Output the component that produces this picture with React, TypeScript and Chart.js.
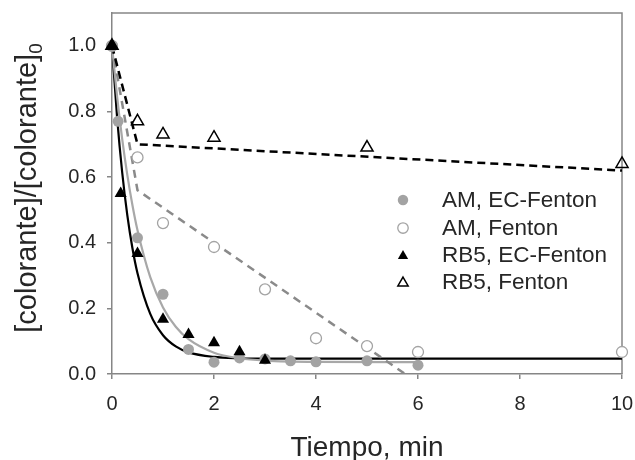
import React, { useEffect, useRef } from 'react';
import { Chart, registerables } from 'chart.js';

Chart.register(...registerables);

// ---- data ----
const X_TICKS = [0, 2, 4, 6, 8, 10];
const Y_TICKS = [0, 0.2, 0.4, 0.6, 0.8, 1.0];

const LEGEND_LABELS = ['AM, EC-Fenton', 'AM, Fenton', 'RB5, EC-Fenton', 'RB5, Fenton'];

const AM_EC_T = [0, 0.12, 0.5, 1, 1.5, 2, 2.5, 3, 3.5, 4, 5, 6];
const AM_EC_V = [1.0, 0.77, 0.415, 0.243, 0.075, 0.036, 0.049, 0.046, 0.04, 0.037, 0.04, 0.027];

const AM_F_T = [0, 0.5, 1, 2, 3, 4, 5, 6, 10];
const AM_F_V = [1.0, 0.66, 0.46, 0.387, 0.258, 0.109, 0.085, 0.067, 0.067];

const RB_EC_T = [0, 0.17, 0.5, 1, 1.5, 2, 2.5, 3];
const RB_EC_V = [1.0, 0.55, 0.367, 0.167, 0.12, 0.095, 0.068, 0.042];

const RB_F_T = [0, 0.5, 1, 2, 5, 10];
const RB_F_V = [1.0, 0.77, 0.73, 0.72, 0.69, 0.64];

// fitted curves / trend lines as traced on the picture
const BLACK_FIT_T = [0, 0.1, 0.2, 0.3, 0.4, 0.5, 0.75, 1, 1.25, 1.5, 2, 2.5, 3, 4, 10];
const BLACK_FIT_V = [1.0, 0.782, 0.614, 0.484, 0.384, 0.307, 0.183, 0.118, 0.084, 0.066, 0.052, 0.048, 0.047, 0.047, 0.047];

const GRAY_FIT_T = [0, 0.1, 0.2, 0.3, 0.4, 0.5, 0.75, 1, 1.25, 1.5, 2, 2.5, 3, 4, 6];
const GRAY_FIT_V = [1.0, 0.845, 0.716, 0.607, 0.515, 0.438, 0.295, 0.203, 0.144, 0.106, 0.065, 0.048, 0.041, 0.037, 0.036];

const RB_F_TREND_T = [0, 0.5, 10];
const RB_F_TREND_V = [1.0, 0.7, 0.62];

const AM_F_TREND_T = [0, 0.5, 5.75];
const AM_F_TREND_V = [1.0, 0.56, 0.0];

const X_TITLE = 'Tiempo, min';
const Y_TITLE_MAIN = '[colorante]/[colorante]';
const Y_TITLE_SUB = '0';

// ---- styles ----
const FONT = '"Liberation Sans", Arial, sans-serif';
const TEXT = '#262626';
const AXIS = '#868686';
const GRAY_MARK = '#a3a3a3';

const pts = (t: number[], v: number[]) => t.map((x, i) => ({ x, y: v[i] }));

const drawMarker = (ctx: CanvasRenderingContext2D, kind: number, x: number, y: number, scale: number) => {
  ctx.save();
  if (kind === 0 || kind === 1) {
    const r = 5.5 * scale;
    ctx.beginPath();
    ctx.arc(x, y, r, 0, Math.PI * 2);
    if (kind === 0) {
      ctx.fillStyle = GRAY_MARK;
      ctx.fill();
    } else {
      ctx.fillStyle = '#ffffff';
      ctx.fill();
      ctx.lineWidth = 1.3;
      ctx.strokeStyle = GRAY_MARK;
      ctx.stroke();
    }
  } else {
    const r = 7 * scale;
    ctx.beginPath();
    for (let k = 0; k < 3; k++) {
      const a = (k * 2 * Math.PI) / 3;
      const px = x + Math.sin(a) * r;
      const py = y - Math.cos(a) * r;
      if (k === 0) ctx.moveTo(px, py);
      else ctx.lineTo(px, py);
    }
    ctx.closePath();
    if (kind === 2) {
      ctx.fillStyle = '#000000';
      ctx.fill();
    } else {
      ctx.lineWidth = 1.5;
      ctx.strokeStyle = '#000000';
      ctx.stroke();
    }
  }
  ctx.restore();
};

const decorPlugin = {
  id: 'decor',
  beforeDatasetsDraw(chart: any) {
    const { ctx, chartArea } = chart;
    ctx.save();
    ctx.strokeStyle = AXIS;
    ctx.lineWidth = 1.5;
    ctx.beginPath();
    ctx.moveTo(chartArea.left, chartArea.top);
    ctx.lineTo(chartArea.right, chartArea.top);
    ctx.lineTo(chartArea.right, chartArea.bottom);
    ctx.stroke();
    ctx.restore();
  },
  afterDraw(chart: any) {
    const { ctx, chartArea } = chart;
    ctx.save();
    // x title
    ctx.fillStyle = TEXT;
    ctx.font = `28px ${FONT}`;
    ctx.textAlign = 'center';
    ctx.textBaseline = 'alphabetic';
    ctx.fillText(X_TITLE, (chartArea.left + chartArea.right) / 2, 456);

    // y title with subscript
    ctx.translate(36, 188);
    ctx.rotate(-Math.PI / 2);
    const mainFont = `29px ${FONT}`;
    const subFont = `19px ${FONT}`;
    ctx.font = mainFont;
    const w1 = ctx.measureText(Y_TITLE_MAIN).width;
    ctx.font = subFont;
    const w2 = ctx.measureText(Y_TITLE_SUB).width;
    const start = -(w1 + w2) / 2;
    ctx.textAlign = 'left';
    ctx.font = mainFont;
    ctx.fillText(Y_TITLE_MAIN, start, 0);
    ctx.font = subFont;
    ctx.fillText(Y_TITLE_SUB, start + w1, 6);
    ctx.restore();

    // legend
    ctx.save();
    const rows = [200, 228, 255, 282];
    ctx.font = `22.5px ${FONT}`;
    ctx.fillStyle = TEXT;
    ctx.textAlign = 'left';
    ctx.textBaseline = 'middle';
    LEGEND_LABELS.forEach((label, i) => {
      drawMarker(ctx, i, 403, rows[i] + (i >= 2 ? 1 : 0), i >= 2 ? 0.85 : 0.95);
      ctx.fillText(label, 442, rows[i] + 1);
    });
    ctx.restore();
  },
};

export default function App() {
  const ref = useRef<HTMLCanvasElement | null>(null);

  useEffect(() => {
    document.body.style.margin = '0';
    const canvas = ref.current;
    if (!canvas) return;

    const tickFont = { family: FONT, size: 20 };

    const chart = new Chart(canvas, {
      type: 'scatter',
      data: {
        datasets: [
          {
            label: 'RB5 Fenton trend',
            data: pts(RB_F_TREND_T, RB_F_TREND_V),
            showLine: true,
            borderColor: '#000000',
            borderWidth: 2.5,
            borderDash: [8, 5],
            pointRadius: 0,
            order: 10,
          },
          {
            label: 'AM Fenton trend',
            data: pts(AM_F_TREND_T, AM_F_TREND_V),
            showLine: true,
            borderColor: '#8a8a8a',
            borderWidth: 2.5,
            borderDash: [8, 6],
            pointRadius: 0,
            order: 10,
          },
          {
            label: 'AM EC fit',
            data: pts(GRAY_FIT_T, GRAY_FIT_V),
            showLine: true,
            borderColor: '#a8a8a8',
            borderWidth: 2.2,
            cubicInterpolationMode: 'monotone',
            pointRadius: 0,
            order: 10,
          },
          {
            label: 'RB5 EC fit',
            data: pts(BLACK_FIT_T, BLACK_FIT_V),
            showLine: true,
            borderColor: '#000000',
            borderWidth: 2.2,
            cubicInterpolationMode: 'monotone',
            pointRadius: 0,
            order: 10,
          },
          {
            label: LEGEND_LABELS[0],
            data: pts(AM_EC_T, AM_EC_V),
            pointStyle: 'circle',
            pointRadius: 5.5,
            backgroundColor: GRAY_MARK,
            borderColor: GRAY_MARK,
            borderWidth: 0,
            clip: false,
            order: 1,
          },
          {
            label: LEGEND_LABELS[1],
            data: pts(AM_F_T, AM_F_V),
            pointStyle: 'circle',
            pointRadius: 5.5,
            backgroundColor: '#ffffff',
            borderColor: GRAY_MARK,
            borderWidth: 1.3,
            clip: false,
            order: 1,
          },
          {
            label: LEGEND_LABELS[2],
            data: pts(RB_EC_T, RB_EC_V),
            pointStyle: 'triangle',
            pointRadius: 7,
            backgroundColor: '#000000',
            borderColor: '#000000',
            borderWidth: 0,
            clip: false,
            order: 0,
          },
          {
            label: LEGEND_LABELS[3],
            data: pts(RB_F_T, RB_F_V),
            pointStyle: 'triangle',
            pointRadius: 7,
            backgroundColor: 'rgba(255,255,255,0)',
            borderColor: '#000000',
            borderWidth: 1.5,
            clip: false,
            order: 0,
          },
        ],
      },
      options: {
        animation: false,
        responsive: false,
        maintainAspectRatio: false,
        events: [],
        layout: { padding: { top: 13, right: 13, left: 0, bottom: 0 } },
        plugins: {
          legend: { display: false },
          tooltip: { enabled: false },
        },
        scales: {
          x: {
            type: 'linear',
            min: 0,
            max: 10,
            afterBuildTicks: (s: any) => {
              s.ticks = X_TICKS.map((v) => ({ value: v }));
            },
            afterFit: (s: any) => {
              s.height = 86;
              s.paddingLeft = 0;
              s.paddingRight = 0;
            },
            ticks: {
              font: tickFont,
              color: TEXT,
              padding: 13,
              maxRotation: 0,
              autoSkip: false,
              callback: (v: any) => String(v),
            },
            grid: { drawOnChartArea: false, drawTicks: true, tickLength: 5, color: AXIS, lineWidth: 1.5 },
            border: { display: true, color: AXIS, width: 1.5 },
          },
          y: {
            type: 'linear',
            min: 0,
            max: 1.1,
            afterBuildTicks: (s: any) => {
              s.ticks = Y_TICKS.map((v) => ({ value: v }));
            },
            afterFit: (s: any) => {
              s.width = 112;
              s.paddingTop = 0;
              s.paddingBottom = 0;
            },
            ticks: {
              font: tickFont,
              color: TEXT,
              padding: 11,
              autoSkip: false,
              callback: (v: any) => Number(v).toFixed(1),
            },
            grid: { drawOnChartArea: false, drawTicks: true, tickLength: 5, color: AXIS, lineWidth: 1.5 },
            border: { display: true, color: AXIS, width: 1.5 },
          },
        },
      },
      plugins: [decorPlugin],
    } as any);

    return () => chart.destroy();
  }, []);

  return <canvas ref={ref} width={635} height={460} style={{ display: 'block', width: 635, height: 460 }} />;
}
